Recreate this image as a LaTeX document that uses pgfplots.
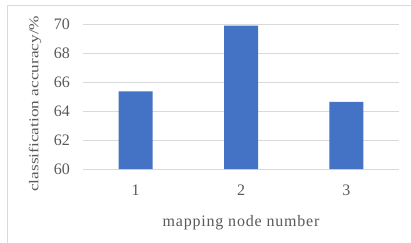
\documentclass[border=0pt]{standalone}
\usepackage{fontspec}
\setmainfont{Liberation Serif}
\newfontfamily\spacedfont[LetterSpace=5]{Liberation Serif}
\usepackage{graphicx}
\usepackage{pgfplots}
\pgfplotsset{compat=1.18}
\definecolor{barblue}{HTML}{4472C4}
\definecolor{gridgray}{HTML}{D9D9D9}
\definecolor{txtgray}{HTML}{595959}
\begin{document}
\begin{tikzpicture}[x=1pt,y=1pt]
\path[use as bounding box] (0,0) rectangle (411,242);
\draw[gridgray, line width=1pt] (7,-2) -- (7,237) -- (413,237);
\begin{axis}[
  at={(83pt,73pt)}, anchor=south west,
  scale only axis, width=316pt, height=145pt,
  xmin=0.5, xmax=3.5, ymin=60, ymax=70,
  ytick={60,62,64,66,68,70}, xtick={1,2,3},
  axis line style={draw=none},
  major tick length=0pt,
  ymajorgrids, grid style={gridgray, line width=1pt},
  /pgf/number format/assume math mode=true,
  yticklabel style={font=\fontsize{16}{16}\selectfont, text=txtgray, anchor=east, inner sep=0pt, xshift=-13pt},
  xticklabel style={font=\fontsize{16}{16}\selectfont, text=txtgray, anchor=center, inner sep=0pt, yshift=-21pt},
  xlabel={\spacedfont mapping node number},
  xlabel style={font=\fontsize{16}{16}\selectfont, text=txtgray, at={(axis description cs:0.5,-0.37)}, anchor=center, inner sep=0pt},
  ylabel={\scalebox{1.28}[1]{classification accuracy/\%}},
  ylabel style={font=\fontsize{13.5}{13.5}\selectfont, text=txtgray, at={(axis description cs:-0.152,0.45)}, anchor=center, rotate=0, inner sep=0pt},
  clip=true,
]
\addplot[ybar, bar width=34pt, fill=barblue, draw=none, bar shift=0pt] coordinates {(1,65.35) (2,69.88) (3,64.63)};
\end{axis}
\end{tikzpicture}
\end{document}
